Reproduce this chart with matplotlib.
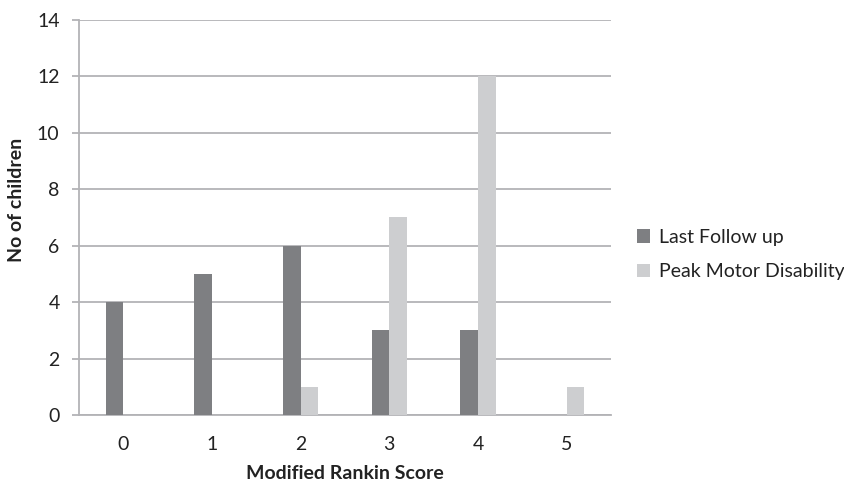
import matplotlib
matplotlib.use("Agg")
import matplotlib.pyplot as plt
import numpy as np

plt.rcParams["font.family"] = ["Lato", "DejaVu Sans"]

scores = ["0", "1", "2", "3", "4", "5"]
last_follow_up = [4, 5, 6, 3, 3, 0]
peak_motor = [0, 0, 1, 7, 12, 1]

DARK = "#7e7f82"
LIGHT = "#cdced0"
GRID = "#b3b3b6"

fig = plt.figure(figsize=(8.45, 4.83), dpi=100)
ax = fig.add_axes([0.0935, 0.1408, 0.6295, 0.8178])

x = np.arange(len(scores))
w = 0.2
ax.bar(x - w / 2, last_follow_up, width=w, color=DARK, label="Last Follow up", zorder=3)
ax.bar(x + w / 2, peak_motor, width=w, color=LIGHT, label="Peak Motor Disability", zorder=3)

ax.set_xlim(-0.5, 5.5)
ax.set_ylim(0, 14)
ax.set_yticks(range(0, 15, 2))
ax.set_xticks(x)
ax.set_xticklabels(scores)
ax.yaxis.grid(True, color=GRID, linewidth=1.3, zorder=0)
ax.set_axisbelow(True)

for s in ("top", "right"):
    ax.spines[s].set_visible(False)
for s in ("left", "bottom"):
    ax.spines[s].set_color(GRID)
    ax.spines[s].set_linewidth(1.3)

ax.tick_params(axis="y", length=5, color=GRID, width=1.3, labelsize=14, pad=9, labelcolor="#222222")
ax.tick_params(axis="x", length=0, labelsize=14, pad=15, labelcolor="#222222")

ax.set_xlabel("Modified Rankin Score", fontsize=14, fontweight="bold", labelpad=9, color="#222222")
ax.set_ylabel("No of children", fontsize=14, fontweight="bold", color="#222222")
ax.yaxis.set_label_coords(-0.1015, 0.544)

ax.legend(loc="center left", bbox_to_anchor=(0.733, 0.473), bbox_transform=fig.transFigure,
          frameon=False, fontsize=14, handlelength=0.7, handleheight=0.7,
          handletextpad=0.45, labelspacing=0.9, labelcolor="#222222")

fig.savefig("out.png", dpi=100)
